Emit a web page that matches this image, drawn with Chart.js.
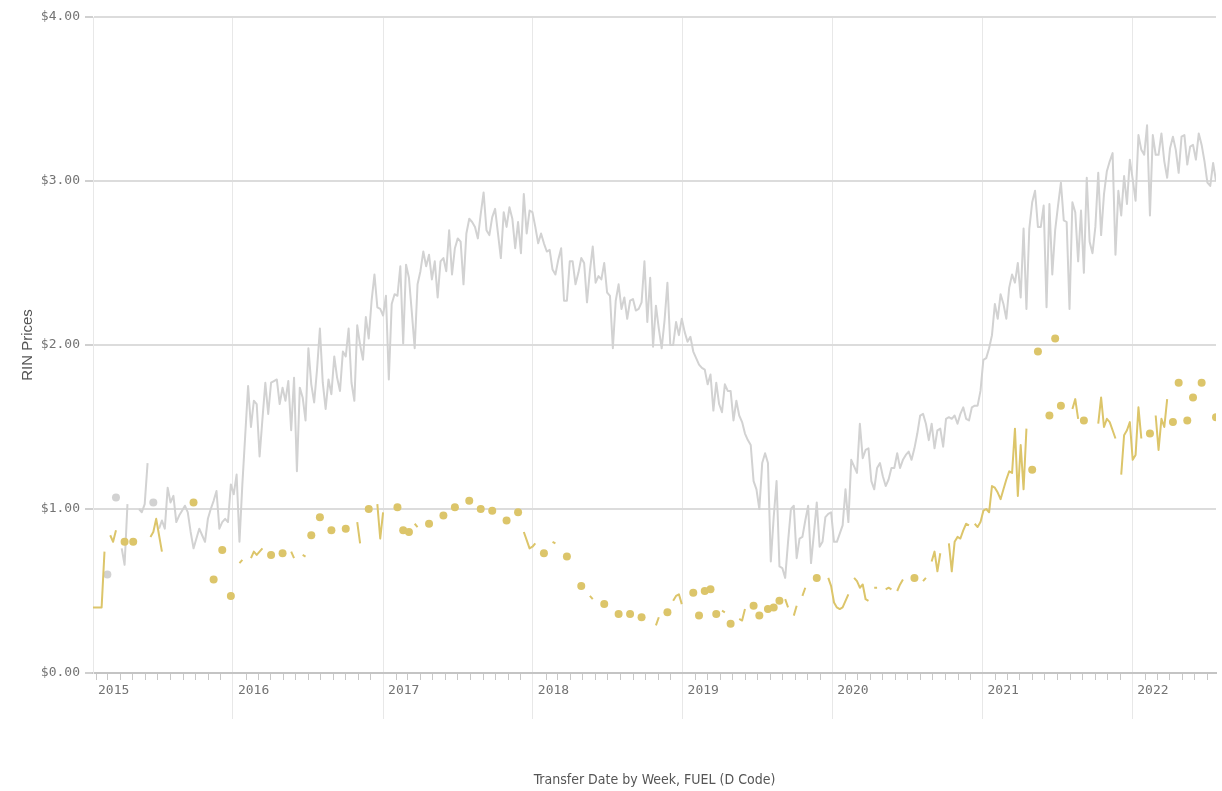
<!DOCTYPE html>
<html>
<head>
<meta charset="utf-8">
<script src="https://cdn.jsdelivr.net/npm/chart.js@4.4.1/dist/chart.umd.min.js"></script>
<style>
  html, body { margin: 0; padding: 0; background: #fff; }
  #wrap { width: 1222px; height: 791px; }
</style>
</head>
<body>
<div id="wrap"><canvas id="chart" width="1222" height="791"></canvas></div>
<script>
// weekly RIN prices, one value per week starting at firstWeek (null = no trades that week)
const firstWeek = '2015-01-25';
const yearLabels = [2015, 2016, 2017, 2018, 2019, 2020, 2021, 2022];
const yTickValues = [0, 1, 2, 3, 4];

const grayPrices = [
  null,null,null,null,null,0.60,null,null,1.07,null,
  0.76,0.66,1.03,null,null,null,1.00,0.98,1.03,1.28,
  null,1.04,null,0.88,0.93,0.88,1.13,1.04,1.08,0.92,
  0.96,0.99,1.02,0.98,0.86,0.76,0.82,0.88,0.84,0.80,
  0.94,1.00,1.05,1.11,0.88,0.92,0.94,0.92,1.15,1.09,
  1.21,0.80,1.15,1.45,1.75,1.50,1.66,1.64,1.32,1.55,
  1.77,1.58,1.77,1.78,1.79,1.64,1.74,1.66,1.78,1.48,
  1.80,1.23,1.74,1.68,1.54,1.98,1.76,1.65,1.85,2.10,
  1.77,1.61,1.79,1.70,1.93,1.80,1.72,1.96,1.93,2.10,
  1.77,1.66,2.12,2.00,1.91,2.17,2.04,2.27,2.43,2.23,
  2.22,2.18,2.30,1.79,2.25,2.31,2.30,2.48,2.01,2.49,
  2.41,2.20,1.98,2.37,2.45,2.57,2.48,2.55,2.40,2.51,
  2.29,2.51,2.53,2.45,2.70,2.43,2.59,2.65,2.63,2.37,
  2.68,2.77,2.75,2.72,2.65,2.80,2.93,2.70,2.67,2.78,
  2.83,2.68,2.53,2.81,2.72,2.84,2.77,2.59,2.75,2.56,
  2.92,2.68,2.82,2.81,2.72,2.62,2.68,2.62,2.57,2.58,
  2.46,2.43,2.52,2.59,2.27,2.27,2.51,2.51,2.37,2.44,
  2.53,2.50,2.26,2.45,2.60,2.38,2.42,2.40,2.50,2.32,
  2.30,1.98,2.27,2.37,2.22,2.29,2.16,2.27,2.28,2.21,
  2.22,2.26,2.51,2.14,2.41,1.99,2.24,2.10,1.98,2.15,
  2.38,2.00,2.00,2.14,2.06,2.16,2.08,2.02,2.05,1.96,
  1.92,1.88,1.86,1.85,1.76,1.82,1.60,1.77,1.64,1.59,
  1.76,1.72,1.72,1.54,1.66,1.57,1.53,1.46,1.42,1.39,
  1.17,1.12,1.00,1.28,1.34,1.28,0.68,0.95,1.17,0.65,
  0.64,0.58,0.80,1.00,1.02,0.70,0.82,0.83,0.93,1.02,
  0.67,0.85,1.04,0.77,0.80,0.95,0.97,0.98,0.80,0.80,
  0.85,0.90,1.12,0.92,1.30,1.26,1.22,1.52,1.31,1.36,
  1.37,1.17,1.12,1.25,1.28,1.20,1.14,1.18,1.25,1.25,
  1.34,1.25,1.30,1.33,1.35,1.30,1.37,1.46,1.57,1.58,
  1.52,1.42,1.52,1.37,1.48,1.49,1.38,1.55,1.56,1.55,
  1.57,1.52,1.58,1.62,1.55,1.54,1.62,1.63,1.63,1.72,
  1.91,1.92,1.98,2.06,2.25,2.16,2.31,2.25,2.16,2.35,
  2.43,2.38,2.50,2.29,2.71,2.22,2.71,2.87,2.94,2.72,
  2.72,2.85,2.23,2.86,2.43,2.70,2.85,2.99,2.76,2.75,
  2.22,2.87,2.81,2.51,2.82,2.44,3.02,2.63,2.56,2.72,
  3.05,2.67,2.92,3.06,3.12,3.17,2.55,2.94,2.79,3.03,
  2.86,3.13,3.01,2.88,3.28,3.19,3.16,3.34,2.79,3.28,
  3.16,3.16,3.29,3.12,3.02,3.20,3.27,3.19,3.05,3.27,
  3.28,3.10,3.21,3.22,3.13,3.29,3.22,3.12,2.99,2.97,
  3.11,3.00
];

const goldPrices = [
  0.40,0.40,0.40,0.40,0.74,null,0.84,0.80,0.87,null,
  null,0.80,null,null,0.80,null,null,null,null,null,
  0.83,0.86,0.94,0.84,0.74,null,null,null,null,null,
  null,null,null,null,null,1.04,null,null,null,null,
  null,null,0.57,null,null,0.75,null,null,0.47,null,
  null,0.67,0.69,null,null,0.70,0.74,0.72,0.74,0.76,
  null,null,0.72,null,null,null,0.73,null,null,0.74,
  0.70,null,null,0.72,0.71,null,0.84,null,null,0.95,
  null,null,null,0.87,null,null,null,null,0.88,null,
  null,null,0.92,0.79,null,null,1.00,null,null,1.03,
  0.82,0.98,null,null,null,null,1.01,null,0.87,null,
  0.86,null,0.91,0.89,null,null,null,0.91,null,null,
  null,null,0.96,null,null,null,1.01,null,null,null,
  null,1.05,null,null,null,1.00,null,null,null,0.99,
  null,null,null,null,0.93,null,null,null,0.98,null,
  0.86,0.81,0.76,0.77,0.79,null,null,0.73,null,null,
  0.80,0.79,null,null,null,0.71,null,null,null,null,
  0.53,null,null,0.47,0.45,null,null,null,0.42,null,
  null,null,null,0.36,null,null,null,0.36,null,null,
  null,0.34,null,null,null,null,0.29,0.34,null,null,
  0.37,null,0.44,0.47,0.48,0.42,null,null,null,0.49,
  null,0.35,null,0.50,null,0.51,null,0.36,null,0.38,
  0.37,null,0.30,null,null,0.33,0.32,0.39,null,null,
  0.41,null,0.35,null,null,0.39,null,0.40,null,0.44,
  null,0.45,0.40,null,0.35,0.41,null,0.47,0.52,null,
  null,null,0.58,null,null,null,0.58,0.53,0.43,0.40,
  0.39,0.40,0.44,0.48,null,0.58,0.56,0.52,0.54,0.45,
  0.44,null,0.52,0.52,null,null,0.51,0.52,0.51,null,
  0.50,0.54,0.57,null,null,null,0.58,null,null,0.56,
  0.58,null,0.68,0.74,0.62,0.73,null,null,0.79,0.62,
  0.80,0.83,0.82,0.87,0.91,0.90,null,0.91,0.89,0.92,
  0.99,1.00,0.98,1.14,1.13,1.10,1.06,1.12,1.18,1.23,
  1.22,1.49,1.08,1.39,1.12,1.49,null,1.24,null,1.96,
  null,null,null,1.57,null,2.04,null,1.63,null,null,
  null,1.61,1.67,1.55,null,1.54,null,null,null,null,
  1.52,1.68,1.50,1.55,1.53,1.48,1.43,null,1.21,1.45,
  1.48,1.53,1.30,1.33,1.62,1.43,null,null,1.46,null,
  1.57,1.36,1.55,1.50,1.67,null,1.53,null,1.77,null,
  null,1.54,null,1.68,null,null,1.77,null,null,null,
  null,1.56
];

const GRAY = '#d2d2d2';
const GOLD = '#dcc56a';
const TICK_FONT = { family: "'DejaVu Sans Mono', monospace", size: 13 };

const startMs = Date.parse(firstWeek + 'T00:00:00Z');
const DAY = 86400000;
function weekOf(ms) { return (ms - startMs) / (7 * DAY); }
function yearOfWeek(w) { return new Date(startMs + w * 7 * DAY + DAY).getUTCFullYear(); }

// Qlik shows a week with no neighbours as a dot
function isolated(arr, i) {
  if (arr[i] == null) return false;
  const prev = i > 0 ? arr[i - 1] : null;
  const next = i < arr.length - 1 ? arr[i + 1] : null;
  return prev == null && next == null;
}

function toPoints(arr) {
  return arr.map((v, i) => ({ x: i, y: v }));
}

function lineDataset(label, arr, color) {
  return {
    label: label,
    data: toPoints(arr),
    borderColor: color,
    backgroundColor: color,
    borderWidth: 2,
    borderJoinStyle: 'round',
    tension: 0,
    spanGaps: false,
    pointRadius: ctx => isolated(arr, ctx.dataIndex) ? 4 : 0,
    pointHoverRadius: ctx => isolated(arr, ctx.dataIndex) ? 4 : 0,
    pointBorderWidth: 0,
    pointBackgroundColor: color
  };
}

const lastWeek = grayPrices.length - 1;

const monthTicks = {
  id: 'monthTicks',
  afterDraw(chart) {
    const xs = chart.scales.x;
    const ctx = chart.ctx;
    const y0 = chart.chartArea.bottom;
    ctx.save();
    ctx.strokeStyle = '#c8c8c8';
    ctx.lineWidth = 1;
    yearLabels.forEach(yr => {
      for (let m = 1; m < 12; m++) {
        const w = weekOf(Date.UTC(yr, m, 1));
        if (w < xs.min || w > xs.max) continue;
        const px = Math.round(xs.getPixelForValue(w)) + 0.5;
        ctx.beginPath();
        ctx.moveTo(px, y0 + 1);
        ctx.lineTo(px, y0 + 7);
        ctx.stroke();
      }
    });
    ctx.restore();
  }
};

new Chart(document.getElementById('chart'), {
  type: 'line',
  data: {
    datasets: [
      lineDataset('D6', goldPrices, GOLD),
      lineDataset('D4', grayPrices, GRAY)
    ]
  },
  options: {
    responsive: false,
    animation: false,
    devicePixelRatio: 1,
    layout: { padding: { top: 17, right: 6, left: 0, bottom: 0 } },
    plugins: {
      legend: { display: false },
      tooltip: { enabled: false }
    },
    scales: {
      x: {
        type: 'linear',
        min: 0,
        max: lastWeek,
        afterBuildTicks(scale) {
          scale.ticks = yearLabels.map(yr => ({ value: Math.max(0, weekOf(Date.UTC(yr, 0, 1))) }));
        },
        afterFit(scale) { scale.height = 118; },
        ticks: {
          autoSkip: false,
          maxRotation: 0,
          align: 'start',
          labelOffset: 5,
          padding: -36,
          color: '#737373',
          font: TICK_FONT,
          callback: v => String(yearOfWeek(v))
        },
        grid: {
          color: '#e8e8e8',
          lineWidth: 1,
          tickLength: 46,
          tickColor: ctx => ctx.index === 0 ? 'rgba(0,0,0,0)' : '#e8e8e8'
        },
        border: { display: true, color: '#c4c4c4', width: 2 },
        title: {
          display: true,
          text: 'Transfer Date by Week, FUEL (D Code)',
          color: '#555',
          font: { family: "'Liberation Sans Narrow', 'DejaVu Sans Condensed', Roboto, sans-serif", size: 14 },
          padding: { top: 0, bottom: 2 }
        }
      },
      y: {
        min: 0,
        max: 4,
        afterBuildTicks(scale) {
          scale.ticks = yTickValues.map(v => ({ value: v }));
        },
        afterFit(scale) { scale.width = 93; },
        ticks: {
          padding: 5,
          color: '#737373',
          font: TICK_FONT,
          callback: v => '$' + Number(v).toFixed(2)
        },
        grid: {
          color: '#dcdcdc',
          lineWidth: 2,
          tickLength: 8,
          tickColor: '#d0d0d0'
        },
        border: { display: true, color: '#e8e8e8', width: 1 },
        title: {
          display: true,
          text: 'RIN Prices',
          color: '#555',
          font: { family: "'Liberation Sans', Arial, sans-serif", size: 15 },
          padding: { top: 19, bottom: 0 }
        }
      }
    }
  },
  plugins: [monthTicks]
});
</script>
</body>
</html>
